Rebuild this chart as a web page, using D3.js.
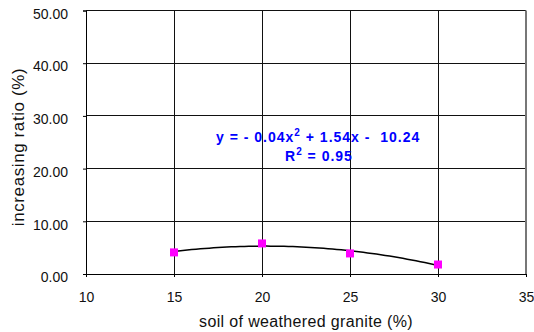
<!DOCTYPE html>
<html>
<head>
<meta charset="utf-8">
<script src="https://cdn.jsdelivr.net/npm/d3@7"></script>
<style>
  html, body { margin: 0; padding: 0; background: #fff; }
  svg { display: block; font-family: Arial, "Liberation Sans", sans-serif; }
</style>
</head>
<body>
<svg id="chart" width="534" height="332"></svg>
<script>
// Measured samples: soil content (%) vs. increasing ratio (%)
const soilPct = [15, 20, 25, 30];
const ratioPct = [4.1, 5.8, 3.9, 1.8];

const xTicks = [10, 15, 20, 25, 30, 35];
const yTicks = [0, 10, 20, 30, 40, 50];

const equationText = "y = - 0.04x";
const equationRest = " + 1.54x -  10.24";
const rSquaredText = "R";
const rSquaredRest = " = 0.95";

const margin = { left: 86, right: 8, top: 10.5, bottom: 58 };
const W = 534, H = 332;

const svg = d3.select("#chart");

const x = d3.scaleLinear().domain([10, 35]).range([margin.left, W - margin.right]);
const y = d3.scaleLinear().domain([0, 50]).range([H - margin.bottom, margin.top]);

// Grid
const grid = svg.append("g").attr("stroke", "#111").attr("stroke-width", 1).attr("shape-rendering", "crispEdges");
grid.selectAll("line.h").data(yTicks).join("line")
  .attr("x1", x(10)).attr("x2", x(35))
  .attr("y1", d => y(d)).attr("y2", d => y(d));
grid.selectAll("line.v").data(xTicks).join("line")
  .attr("y1", y(0)).attr("y2", y(50))
  .attr("x1", d => x(d)).attr("x2", d => x(d));

// Right frame edge rendered a bit heavier
svg.append("line")
  .attr("x1", x(35)).attr("x2", x(35)).attr("y1", y(50)).attr("y2", y(0))
  .attr("stroke", "#777").attr("stroke-width", 2);

// Axes
const yAxis = d3.axisLeft(y).tickValues(yTicks).tickFormat(d3.format(".2f")).tickSize(3).tickPadding(15);
const gy = svg.append("g").attr("transform", `translate(${x(10)},0)`).call(yAxis);
gy.select(".domain").attr("stroke", "#000");
gy.selectAll("text").attr("font-size", 14).attr("font-family", "Arial, 'Liberation Sans', sans-serif")
  .attr("fill", "#111").attr("dy", "0.55em");

const xAxis = d3.axisBottom(x).tickValues(xTicks).tickFormat(d3.format("d")).tickSize(3).tickPadding(15);
const gx = svg.append("g").attr("transform", `translate(0,${y(0)})`).call(xAxis);
gx.select(".domain").attr("stroke", "#000");
gx.selectAll("text").attr("font-size", 14).attr("font-family", "Arial, 'Liberation Sans', sans-serif")
  .attr("fill", "#111");

// Axis titles
svg.append("text")
  .attr("x", 306).attr("y", 327)
  .attr("text-anchor", "middle").attr("font-size", 16).attr("letter-spacing", 0.35).attr("fill", "#111")
  .text("soil of weathered granite (%)");

svg.append("text")
  .attr("transform", `translate(24,147) rotate(-90)`)
  .attr("text-anchor", "middle").attr("font-size", 17).attr("letter-spacing", 0.6).attr("fill", "#111")
  .text("increasing ratio (%)");

// Least-squares quadratic trendline through the samples
function quadFit(xs, ys) {
  let s = [0, 0, 0, 0, 0], t = [0, 0, 0];
  xs.forEach((xv, i) => {
    for (let k = 0; k <= 4; k++) s[k] += Math.pow(xv, k);
    for (let k = 0; k <= 2; k++) t[k] += Math.pow(xv, k) * ys[i];
  });
  const A = [[s[0], s[1], s[2], t[0]], [s[1], s[2], s[3], t[1]], [s[2], s[3], s[4], t[2]]];
  for (let i = 0; i < 3; i++) {
    for (let j = i + 1; j < 3; j++) {
      const f = A[j][i] / A[i][i];
      for (let k = i; k < 4; k++) A[j][k] -= f * A[i][k];
    }
  }
  const c = [0, 0, 0];
  for (let i = 2; i >= 0; i--) {
    let v = A[i][3];
    for (let k = i + 1; k < 3; k++) v -= A[i][k] * c[k];
    c[i] = v / A[i][i];
  }
  return xv => c[0] + c[1] * xv + c[2] * xv * xv;
}
const fit = quadFit(soilPct, ratioPct);
const xs = d3.range(soilPct[0], soilPct[soilPct.length - 1] + 0.001, 0.25);
svg.append("path")
  .datum(xs)
  .attr("fill", "none").attr("stroke", "#000").attr("stroke-width", 1.5)
  .attr("d", d3.line().x(d => x(d)).y(d => y(fit(d))));

// Sample markers
svg.selectAll("rect.pt").data(soilPct).join("rect")
  .attr("class", "pt")
  .attr("x", d => x(d) - 4).attr("y", (d, i) => y(ratioPct[i]) - 4)
  .attr("width", 8).attr("height", 8)
  .attr("fill", "#ff00ff");

// Trendline equation
const eq = svg.append("text").attr("x", 216).attr("y", 142)
  .attr("font-size", 14).attr("font-weight", "bold").attr("letter-spacing", 1).attr("fill", "#0000ff")
  .style("white-space", "pre");
eq.append("tspan").text(equationText);
eq.append("tspan").attr("dy", -6).attr("font-size", 10).text("2");
eq.append("tspan").attr("dy", 6).text(equationRest);

const r2 = svg.append("text").attr("x", 285).attr("y", 161)
  .attr("font-size", 14).attr("font-weight", "bold").attr("letter-spacing", 1).attr("fill", "#0000ff")
  .style("white-space", "pre");
r2.append("tspan").text(rSquaredText);
r2.append("tspan").attr("dy", -6).attr("font-size", 10).text("2");
r2.append("tspan").attr("dy", 6).text(rSquaredRest);
</script>
</body>
</html>
